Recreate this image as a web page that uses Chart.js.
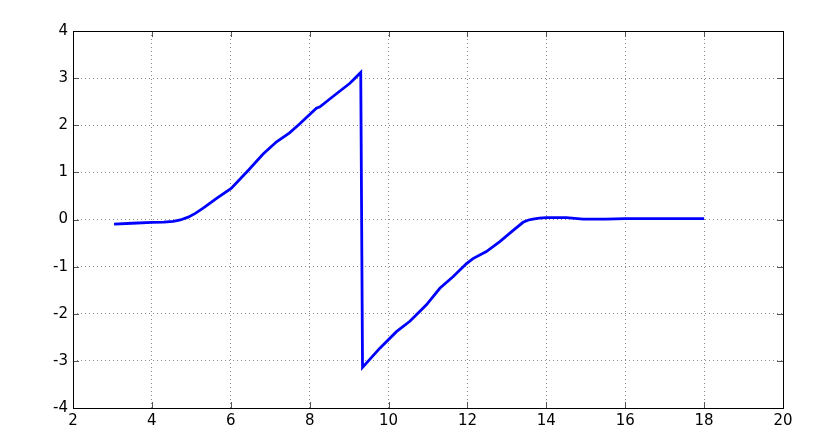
<!DOCTYPE html>
<html lang="en">
<head>
  <meta charset="UTF-8">
  <title>Line plot</title>
  <script src="https://cdn.jsdelivr.net/npm/chart.js"></script>
  <style>
    html, body {
      margin: 0;
      padding: 0;
      background: #ffffff;
    }
    .wrap {
      width: 831px;
      height: 443px;
    }
  </style>
</head>
<body>
  <div class="wrap"><canvas id="plot" width="831" height="443"></canvas></div>

  <script>
    const xs = [3.04, 3.5, 4.0, 4.30, 4.54, 4.72, 4.92, 5.10, 5.30, 5.64, 6.01, 6.44, 6.82, 7.16, 7.49, 7.75, 8.17, 8.26, 8.59, 9.02, 9.295,
                9.34, 9.78, 10.2, 10.54, 10.96, 11.30, 11.64, 11.97, 12.14, 12.48, 12.82, 13.16, 13.41, 13.55, 13.66, 13.82, 14.0, 14.51,
                14.93, 15.5, 16.0, 17.0, 18.0];
    const ys = [-0.10, -0.08, -0.06, -0.055, -0.04, -0.01, 0.05, 0.13, 0.24, 0.45, 0.66, 1.04, 1.39, 1.65, 1.84, 2.03, 2.36, 2.39, 2.61, 2.89, 3.12,
                -3.14, -2.73, -2.38, -2.16, -1.81, -1.46, -1.21, -0.94, -0.83, -0.68, -0.47, -0.23, -0.06, -0.01, 0.01, 0.03, 0.04, 0.04,
                0.01, 0.01, 0.02, 0.02, 0.02];
    const xTicks = [2, 4, 6, 8, 10, 12, 14, 16, 18, 20];
    const yTicks = [-4, -3, -2, -1, 0, 1, 2, 3, 4];

    const points = xs.map((x, i) => ({ x: x, y: ys[i] }));

    // box round the axes and short inward tick marks, MATLAB style
    const boxTicks = {
      id: 'boxTicks',
      afterDraw(chart) {
        const ctx = chart.ctx;
        const a = chart.chartArea;
        const sx = chart.scales.x, sy = chart.scales.y;
        const len = 6;
        ctx.save();
        ctx.strokeStyle = '#555555';
        ctx.lineWidth = 1;
        ctx.beginPath();
        xTicks.forEach(v => {
          const px = Math.round(sx.getPixelForValue(v)) + 0.5;
          ctx.moveTo(px, a.bottom); ctx.lineTo(px, a.bottom - len);
          ctx.moveTo(px, a.top); ctx.lineTo(px, a.top + len);
        });
        yTicks.forEach(v => {
          const py = Math.round(sy.getPixelForValue(v)) + 0.5;
          ctx.moveTo(a.left, py); ctx.lineTo(a.left + len, py);
          ctx.moveTo(a.right, py); ctx.lineTo(a.right - len, py);
        });
        ctx.stroke();
        ctx.strokeStyle = '#000000';
        ctx.strokeRect(Math.round(a.left) + 0.5, Math.round(a.top) + 0.5,
                       Math.round(a.right - a.left), Math.round(a.bottom - a.top));
        ctx.restore();
      }
    };

    new Chart(document.getElementById('plot'), {
      type: 'line',
      data: {
        datasets: [{
          data: points,
          borderColor: '#0000ff',
          borderWidth: 2.8,
          pointRadius: 0,
          tension: 0,
          fill: false
        }]
      },
      options: {
        responsive: false,
        animation: false,
        layout: { padding: { left: 0, top: 31, right: 48, bottom: 0 } },
        plugins: {
          legend: { display: false },
          tooltip: { enabled: false }
        },
        scales: {
          x: {
            type: 'linear',
            min: 2,
            max: 20,
            afterBuildTicks: s => { s.ticks = xTicks.map(v => ({ value: v })); },
            afterFit: s => { s.height = 35; },
            ticks: {
              color: '#000000',
              padding: 4,
              maxRotation: 0,
              font: { family: 'DejaVu Sans', size: 15 }
            },
            grid: {
              color: '#8c8c8c',
              drawTicks: false
            },
            border: { display: false, dash: [1, 3] }
          },
          y: {
            type: 'linear',
            min: -4,
            max: 4,
            afterBuildTicks: s => { s.ticks = yTicks.map(v => ({ value: v })); },
            afterFit: s => { s.width = 73; },
            ticks: {
              color: '#000000',
              padding: 5,
              font: { family: 'DejaVu Sans', size: 15 }
            },
            grid: {
              color: '#8c8c8c',
              drawTicks: false
            },
            border: { display: false, dash: [1, 3] }
          }
        }
      },
      plugins: [boxTicks]
    });
  </script>
</body>
</html>
